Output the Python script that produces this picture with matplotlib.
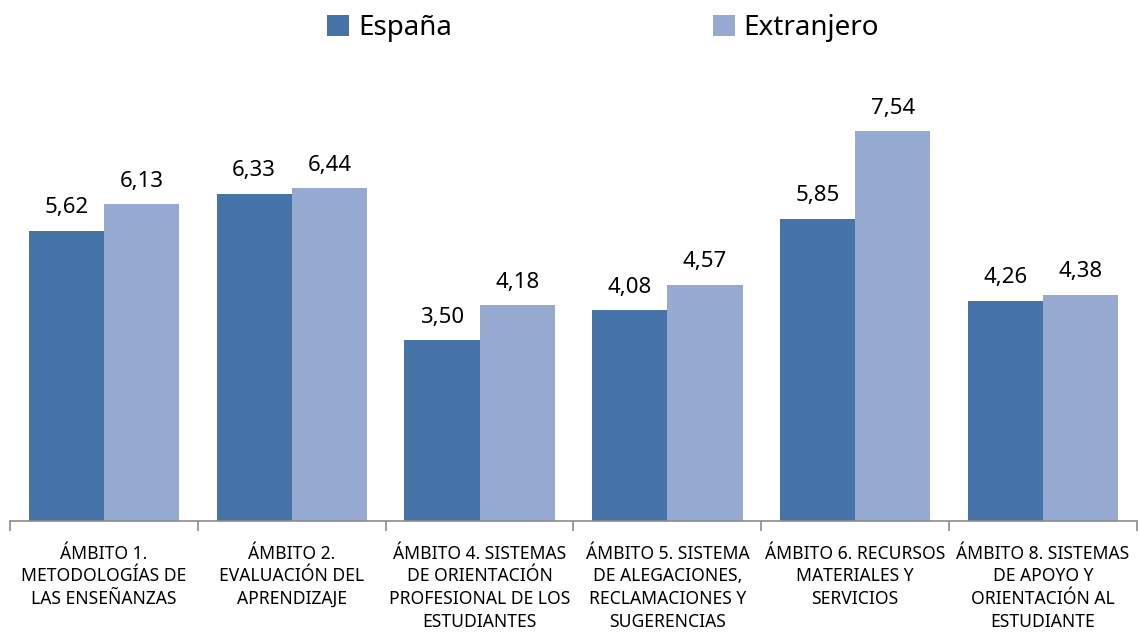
import matplotlib
matplotlib.use("Agg")
import matplotlib.pyplot as plt
import numpy as np
from matplotlib.patches import Patch

plt.rcParams['font.family'] = ['Noto Sans', 'DejaVu Sans']

categories = [
    "ÁMBITO 1.\nMETODOLOGÍAS DE\nLAS ENSEÑANZAS",
    "ÁMBITO 2.\nEVALUACIÓN DEL\nAPRENDIZAJE",
    "ÁMBITO 4. SISTEMAS\nDE ORIENTACIÓN\nPROFESIONAL DE LOS\nESTUDIANTES",
    "ÁMBITO 5. SISTEMA\nDE ALEGACIONES,\nRECLAMACIONES Y\nSUGERENCIAS",
    "ÁMBITO 6. RECURSOS\nMATERIALES Y\nSERVICIOS",
    "ÁMBITO 8. SISTEMAS\nDE APOYO Y\nORIENTACIÓN AL\nESTUDIANTE",
]
series_names = ["España", "Extranjero"]
espana = [5.62, 6.33, 3.50, 4.08, 5.85, 4.26]
extranjero = [6.13, 6.44, 4.18, 4.57, 7.54, 4.38]

colors = ["#4673A8", "#95A9D1"]

fig = plt.figure(figsize=(11.39, 6.37), dpi=100)
ax = fig.add_axes([10/1139, 116/637, 1127/1139, 465/637])

x = np.arange(len(categories))
w = 0.4
b1 = ax.bar(x - w/2, espana, w, color=colors[0], label=series_names[0])
b2 = ax.bar(x + w/2, extranjero, w, color=colors[1], label=series_names[1])

for bars, vals in ((b1, espana), (b2, extranjero)):
    for r, v in zip(bars, vals):
        ax.annotate(f"{v:.2f}".replace(".", ","), (r.get_x() + r.get_width()/2, r.get_height()),
                    xytext=(0, 9), textcoords="offset points", ha="center", va="bottom",
                    fontsize=16, color="#000000")

ax.set_xlim(-0.5, len(categories) - 0.5)
ax.set_ylim(0, 9)
ax.set_yticks([])
for s in ("top", "right", "left"):
    ax.spines[s].set_visible(False)
ax.spines["bottom"].set_color("#8C8C8C")
ax.spines["bottom"].set_linewidth(1.2)

ax.set_xticks(x)
ax.set_xticklabels(categories, fontsize=12.6, linespacing=1.34, color="#000000")
ax.tick_params(axis="x", which="major", length=0, pad=17)
ax.set_xticks(np.arange(-0.5, len(categories)), minor=True)
ax.tick_params(axis="x", which="minor", length=7, width=1.2, color="#8C8C8C", direction="out")

handles = [Patch(facecolor=colors[0]), Patch(facecolor=colors[1])]
fig.legend(handles, series_names, loc="upper center", bbox_to_anchor=(603/1139, 1.004),
           ncol=2, frameon=False, fontsize=20, handlelength=0.8, handleheight=0.8,
           handletextpad=0.3, columnspacing=9.4, borderaxespad=0.2)

fig.savefig("out.png", dpi=100)
